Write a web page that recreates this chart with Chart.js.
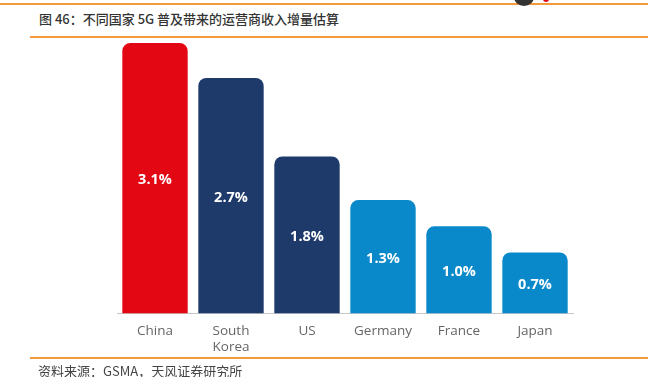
<!DOCTYPE html>
<html>
<head>
<meta charset="utf-8">
<script src="https://cdn.jsdelivr.net/npm/chart.js@4/dist/chart.umd.min.js"></script>
<style>
  html, body { margin: 0; padding: 0; background: #fff; }
  #wrap { position: relative; width: 648px; height: 377px; overflow: hidden; }
  #chartBox { position: absolute; left: 0; top: 0; width: 648px; height: 377px; }
  .line { position: absolute; height: 2px; background: #F39A3C; }
  .title { position: absolute; left: 39px; top: 9px; font: 500 13px "Noto Sans CJK SC", sans-serif; color: #333; white-space: nowrap; }
  .source { position: absolute; left: 38px; top: 364px; line-height: 14px; font-size: 13px; font-family: "Noto Sans CJK SC", sans-serif; color: #444; white-space: nowrap; }
  .logo { position: absolute; left: 514px; top: -12px; width: 20px; height: 18px; border-radius: 50%; background: #333; }
  .logo2 { position: absolute; left: 543px; top: -4px; width: 6px; height: 6px; border-radius: 50%; background: #E30613; }
</style>
</head>
<body>
<div id="wrap">
  <div class="line" style="left:0; top:3px; width:648px;"></div>
  <div class="logo"></div>
  <div class="logo2"></div>
  <div class="title">图 46：不同国家 5G 普及带来的运营商收入增量估算</div>
  <div class="line" style="left:30px; top:36px; width:618px;"></div>
  <div id="chartBox"><canvas id="chart"></canvas></div>
  <div class="line" style="left:30px; top:357px; width:618px;"></div>
  <div class="source">资料来源：GSMA，天风证券研究所</div>
</div>
<script>
const countries = ["China", ["South", "Korea"], "US", "Germany", "France", "Japan"];
const revenueGrowth = [3.1, 2.7, 1.8, 1.3, 1.0, 0.7];
const barColors = ["#E30613", "#1D3A6B", "#1D3A6B", "#0A89CA", "#0A89CA", "#0A89CA"];

// Draw the percentage inside each bar
const valueLabels = {
  id: "valueLabels",
  afterDatasetsDraw(chart) {
    const ctx = chart.ctx;
    const meta = chart.getDatasetMeta(0);
    ctx.save();
    ctx.fillStyle = "#fff";
    ctx.font = 'bold 14.5px "Open Sans", sans-serif';
    ctx.textAlign = "center";
    ctx.textBaseline = "middle";
    meta.data.forEach((bar, i) => {
      const y = (bar.y + bar.base) / 2 + 2;
      ctx.fillText(revenueGrowth[i].toFixed(1) + "%", bar.x, y);
    });
    ctx.restore();
  },
};

new Chart(document.getElementById("chart"), {
  type: "bar",
  data: {
    labels: countries,
    datasets: [
      {
        data: revenueGrowth,
        backgroundColor: barColors,
        borderRadius: { topLeft: 8, topRight: 8 },
        borderSkipped: "bottom",
        barPercentage: 0.86,
        categoryPercentage: 1,
      },
    ],
  },
  options: {
    responsive: true,
    maintainAspectRatio: false,
    animation: false,
    layout: {
      padding: { left: 117, right: 75, top: 43, bottom: 13 },
    },
    plugins: {
      legend: { display: false },
      tooltip: { enabled: false },
    },
    scales: {
      x: {
        grid: { display: false, drawTicks: false },
        border: { display: true, color: "#c8c8c8", width: 1 },
        ticks: {
          color: "#666",
          padding: 9,
          font: { family: '"Open Sans", sans-serif', size: 13.5 },
          maxRotation: 0,
        },
      },
      y: {
        display: false,
        min: 0,
        max: 3.1,
      },
    },
  },
  plugins: [valueLabels],
});
</script>
</body>
</html>
